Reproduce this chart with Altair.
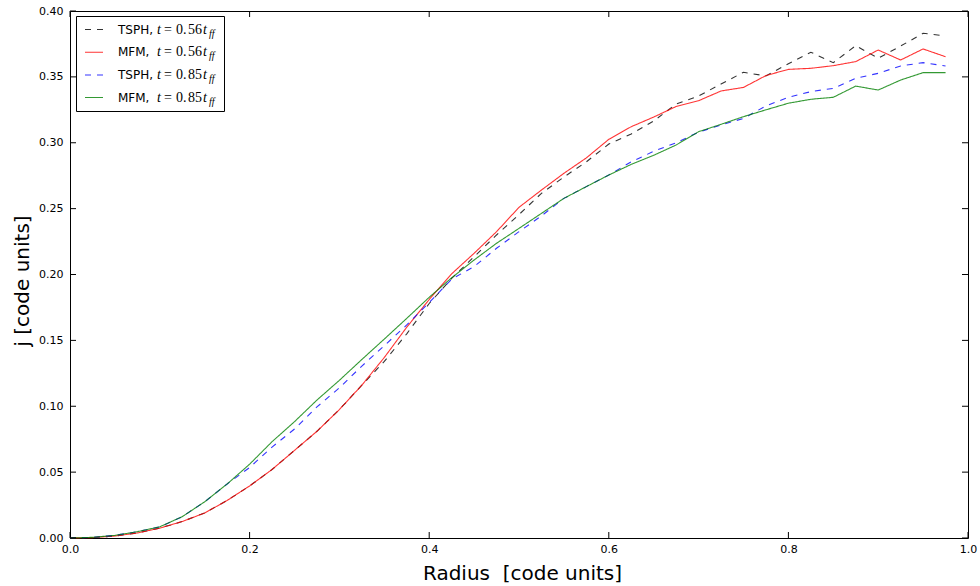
import altair as alt
import pandas as pd

# ---------------- data ----------------
radius = [0.000, 0.025, 0.050, 0.075, 0.100, 0.125, 0.150, 0.175, 0.200, 0.225,
          0.250, 0.275, 0.300, 0.325, 0.350, 0.375, 0.400, 0.425, 0.450, 0.475,
          0.500, 0.525, 0.550, 0.575, 0.600, 0.625, 0.650, 0.675, 0.700, 0.725,
          0.750, 0.775, 0.800, 0.825, 0.850, 0.875, 0.900, 0.925, 0.950, 0.975]

tsph_056 = [0.0, 0.0003, 0.0015, 0.0038, 0.0075, 0.0125, 0.019, 0.0285, 0.0395, 0.052,
            0.0665, 0.081, 0.0975, 0.116, 0.134, 0.155, 0.178, 0.197, 0.2135, 0.230,
            0.2455, 0.2616, 0.274, 0.2855, 0.299, 0.3066, 0.3165, 0.3294, 0.3355, 0.3446,
            0.3535, 0.3507, 0.360, 0.3687, 0.3608, 0.3737, 0.3641, 0.3734, 0.3831, 0.381]

mfm_056 = [0.0, 0.0003, 0.0015, 0.0038, 0.0075, 0.0125, 0.019, 0.0285, 0.0395, 0.052,
           0.0665, 0.081, 0.0975, 0.116, 0.137, 0.160, 0.181, 0.2005, 0.2161, 0.2325,
           0.251, 0.2641, 0.2768, 0.2885, 0.3026, 0.3122, 0.3195, 0.3275, 0.3319, 0.3393,
           0.342, 0.351, 0.3557, 0.3565, 0.3585, 0.3616, 0.3704, 0.3628, 0.3712, 0.3653]

tsph_085 = [0.0, 0.0005, 0.002, 0.0048, 0.0085, 0.0162, 0.0275, 0.041, 0.0535, 0.069,
            0.0827, 0.0995, 0.114, 0.1305, 0.146, 0.1617, 0.1787, 0.1965, 0.206, 0.2199,
            0.2325, 0.2445, 0.2578, 0.2667, 0.2755, 0.2855, 0.2935, 0.300, 0.308, 0.3135,
            0.3185, 0.328, 0.3345, 0.3388, 0.3413, 0.3489, 0.3527, 0.3583, 0.3608, 0.3583]

mfm_085 = [0.0, 0.0005, 0.002, 0.0048, 0.0085, 0.0162, 0.0275, 0.041, 0.056, 0.0731,
           0.0883, 0.1047, 0.1197, 0.1355, 0.151, 0.1667, 0.1827, 0.1975, 0.211, 0.2237,
           0.235, 0.2464, 0.2578, 0.2667, 0.2755, 0.2836, 0.2905, 0.2983, 0.3084, 0.314,
           0.3198, 0.325, 0.330, 0.333, 0.3345, 0.343, 0.340, 0.3476, 0.3532, 0.3532]

series_names = ["TSPH, t=0.56", "MFM, t=0.56", "TSPH, t=0.85", "MFM, t=0.85"]
series_values = [tsph_056, mfm_056, tsph_085, mfm_085]
series_colors = ["#000000", "#ff0000", "#0000ff", "#008000"]
series_dashes = [[6, 6], [1, 0], [6, 6], [1, 0]]

legend_codes = ["TSPH,", "MFM,", "TSPH,", "MFM,"]
legend_int = ["0.", "0.", "0.", "0."]
legend_frac = ["56", "56", "85", "85"]

x_ticks = [0.0, 0.2, 0.4, 0.6, 0.8, 1.0]
y_ticks = [0.0, 0.05, 0.10, 0.15, 0.20, 0.25, 0.30, 0.35, 0.40]

x_title = "Radius\u00a0\u00a0[code units]"
y_title = "j [code units]"

# ---------------- build table ----------------
rows = []
for k, (name, vals) in enumerate(zip(series_names, series_values)):
    for r, j in zip(radius, vals):
        rows.append({"r": r, "j": j, "series": name, "k": k})
df = pd.DataFrame(rows)

W, H = 898, 527
FONT = "DejaVu Sans"
MATH = "Liberation Serif"

xscale = alt.Scale(domain=[0, 1], nice=False, zero=False)
yscale = alt.Scale(domain=[0, 0.4], nice=False, zero=False)

x_axis = alt.Axis(values=x_ticks, format=".1f", ticks=False, domain=False, grid=False,
                  labelFontSize=11, labelFont=FONT, labelColor="black", labelPadding=5,
                  labelFlush=False, labelOverlap=False,
                  title=x_title, titleFontSize=20, titleFont=FONT,
                  titleFontWeight="normal", titleColor="black",
                  titleX=W / 2 + 3, titleY=35, titleBaseline="middle", titleAlign="center")
y_axis = alt.Axis(values=y_ticks, format=".2f", ticks=False, domain=False, grid=False,
                  labelFontSize=11, labelFont=FONT, labelColor="black", labelPadding=7,
                  labelFlush=False, labelOverlap=False,
                  title=y_title, titleFontSize=20, titleFont=FONT,
                  titleFontWeight="normal", titleColor="black",
                  titleX=-48, titleY=H / 2 + 6, titleAngle=270,
                  titleBaseline="middle", titleAlign="center")

lines = alt.Chart(df).mark_line(strokeWidth=1.1, opacity=0.8).encode(
    x=alt.X("r:Q", scale=xscale, axis=x_axis, title=x_title),
    y=alt.Y("j:Q", scale=yscale, axis=y_axis, title=y_title),
    color=alt.Color("series:N", scale=alt.Scale(domain=series_names, range=series_colors), legend=None),
    strokeDash=alt.StrokeDash("series:N", scale=alt.Scale(domain=series_names, range=series_dashes), legend=None),
    order=alt.Order("r:Q"),
)

xt = pd.DataFrame({"r": x_ticks})
yt = pd.DataFrame({"j": y_ticks})
TL = 6
tick_layers = [
    alt.Chart(xt).mark_rule(color="black", strokeWidth=1).encode(
        x=alt.X("r:Q", scale=xscale, axis=x_axis, title=x_title),
        y=alt.value(H), y2=alt.value(H - TL)),
    alt.Chart(xt).mark_rule(color="black", strokeWidth=1).encode(
        x=alt.X("r:Q", scale=xscale, axis=x_axis, title=x_title),
        y=alt.value(0), y2=alt.value(TL)),
    alt.Chart(yt).mark_rule(color="black", strokeWidth=1).encode(
        y=alt.Y("j:Q", scale=yscale, axis=y_axis, title=y_title),
        x=alt.value(0), x2=alt.value(TL)),
    alt.Chart(yt).mark_rule(color="black", strokeWidth=1).encode(
        y=alt.Y("j:Q", scale=yscale, axis=y_axis, title=y_title),
        x=alt.value(W), x2=alt.value(W - TL)),
]

# ---------------- legend (drawn manually) ----------------
one = pd.DataFrame({"a": [0]})
legend_layers = [
    alt.Chart(one).mark_rect(fill="white", stroke="black", strokeWidth=1).encode(
        x=alt.value(6.5), x2=alt.value(154.5), y=alt.value(5.5), y2=alt.value(100.5))
]
row_y = [18.5, 41.3, 64, 86.5]
for i in range(4):
    yy = row_y[i]
    legend_layers.append(
        alt.Chart(one).mark_rule(color=series_colors[i], strokeWidth=1.1, opacity=0.8,
                                 strokeDash=series_dashes[i]).encode(
            x=alt.value(15), x2=alt.value(33), y=alt.value(yy)))
    pieces = [
        (legend_codes[i], 48, FONT, "normal", 12, 0),
        ("t", 87, MATH, "italic", 14, 0),
        ("=", 94, MATH, "normal", 14, 0),
        (legend_int[i], 106, MATH, "normal", 14, 0),
        (legend_frac[i], 118, MATH, "normal", 14, 0),
        ("t", 133, MATH, "italic", 14, 0),
        ("ff", 139, MATH, "italic", 10, 4),
    ]
    for txt, px, fnt, style, fs, dy in pieces:
        legend_layers.append(
            alt.Chart(one).mark_text(text=txt, font=fnt, fontStyle=style, fontSize=fs,
                                     align="left", baseline="middle", color="black", dy=dy).encode(
                x=alt.value(px), y=alt.value(yy)))

chart = alt.layer(lines, *tick_layers, *legend_layers).properties(
    width=W, height=H,
    autosize=alt.AutoSizeParams(type="none"),
    padding={"left": 70, "top": 11, "right": 12, "bottom": 48},
    background="white",
).configure_view(stroke="black", strokeWidth=1)

chart.save("out.html", embed_options={"renderer": "svg", "actions": False})
